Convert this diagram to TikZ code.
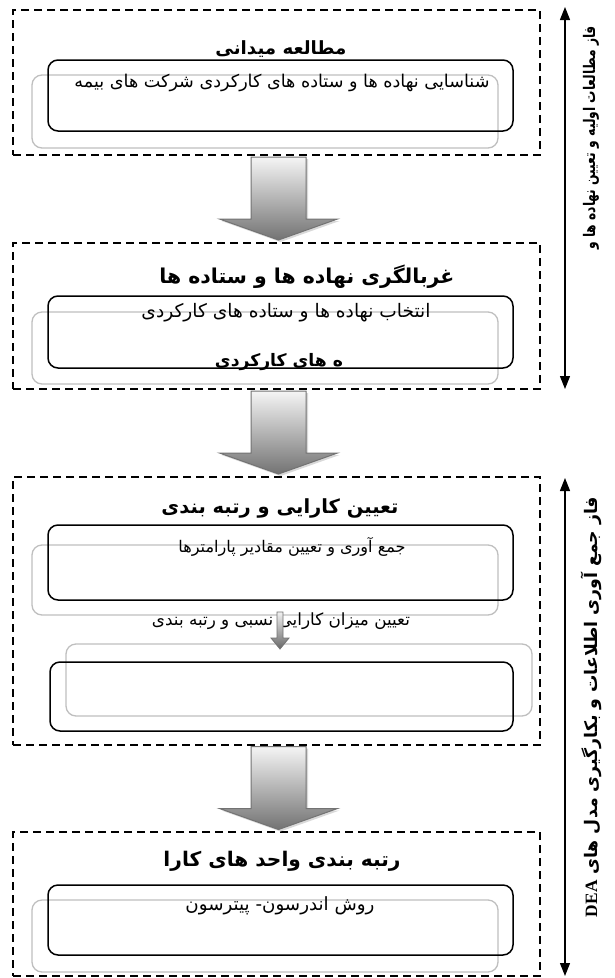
\documentclass[tikz,border=0pt]{standalone}
\usepackage{fontspec}
\usetikzlibrary{arrows.meta,calc}
\TeXXeTstate=1
\newfontfamily\fa[Script=Arabic]{DejaVu Sans}
\newfontfamily\latinserif{Liberation Serif}
\newcommand{\fitto}[2]{\resizebox{#1}{!}{#2}}
\begin{document}
\begin{tikzpicture}[x=1pt,y=-1pt,
  phasebox/.style={draw=black, line width=2pt, dash pattern=on 8pt off 5pt, rectangle, inner sep=0pt},
  blackbox/.style={draw=black, line width=1.5pt, rounded corners=10pt, rectangle, inner sep=0pt},
  graybox/.style={draw=black!25, line width=1.3pt, rounded corners=10pt, rectangle, inner sep=0pt},
  titletext/.style={font=\fa\bfseries\fontsize{15}{18}\selectfont, inner sep=0pt},
  bodytext/.style={font=\fa\fontsize{12}{14}\selectfont, inner sep=0pt},
  sidetext/.style={font=\fa\bfseries\fontsize{16}{18}\selectfont, inner sep=0pt, rotate=90},
  sidearrow/.style={line width=1.2pt, {Triangle[length=13pt,width=10pt]}-{Triangle[length=13pt,width=10pt]}},
  bigarrow/.pic={
    \fill[black!15] (-25.5,-40) -- (29.5,-40) -- (29.5,22) -- (61,22) -- (2,43) -- (-57,22) -- (-25.5,22) -- cycle;
    \draw[draw=black!55, line width=1pt, top color=black!4, bottom color=black!55]
      (-27.5,-42) -- (27.5,-42) -- (27.5,20) -- (59,20) -- (0,41) -- (-59,20) -- (-27.5,20) -- cycle;
  },
  smallarrow/.pic={
    \draw[draw=black!55, line width=0.8pt, top color=black!5, bottom color=black!60]
      (-3,-18) -- (3,-18) -- (3,8) -- (9,8) -- (0,19) -- (-9,8) -- (-3,8) -- cycle;
  }
]
\useasboundingbox (0,0) rectangle (614,978);
\fill[white] (0,0) rectangle (614,978);

% ---------- phase boxes ----------
\node[phasebox, minimum width=527pt, minimum height=145pt] (p1) at (276.5,82.5) {};
\node[phasebox, minimum width=527pt, minimum height=146pt] (p2) at (276.5,316) {};
\node[phasebox, minimum width=527pt, minimum height=268pt] (p3) at (276.5,611) {};
\node[phasebox, minimum width=527pt, minimum height=144pt] (p4) at (276.5,904) {};

% ---------- box 1 ----------
\node[graybox, minimum width=466pt, minimum height=73pt] (g1) at (265,111.5) {};
\node[blackbox, minimum width=465pt, minimum height=71pt] (k1) at (280.5,95.5) {};
\node[titletext] (t1) at (281,49) {\fitto{131pt}{\beginR مطالعه میدانی\endR}};
\node[bodytext] (b1) at (282,83) {\fitto{415pt}{\beginR شناسایی نهاده ها و ستاده های کارکردی شرکت های بیمه\endR}};

% ---------- box 2 ----------
\node[graybox, minimum width=466pt, minimum height=72pt] (g2) at (265,348) {};
\node[blackbox, minimum width=465pt, minimum height=72pt] (k2) at (280.5,332) {};
\node[titletext] (t2) at (307,277) {\fitto{295pt}{\beginR غربالگری نهاده ها و ستاده ها\endR}};
\node[bodytext] (b2) at (286,313) {\fitto{289pt}{\beginR انتخاب نهاده ها و ستاده های کارکردی\endR}};
\node[titletext] (b2b) at (279,362) {\fitto{128pt}{\beginR ه های کارکردی\endR}};

% ---------- box 3 ----------
\node[graybox, minimum width=466pt, minimum height=70pt] (g3) at (265,580) {};
\node[blackbox, minimum width=465pt, minimum height=75pt] (k3) at (280.5,562.5) {};
\node[titletext] (t3) at (280,508) {\fitto{237pt}{\beginR تعیین کارایی و رتبه بندی\endR}};
\node[bodytext] (b3) at (292,547) {\fitto{227pt}{\beginR جمع آوری و تعیین مقادیر پارامترها\endR}};
\node[bodytext] (b3b) at (281,621) {\fitto{258pt}{\beginR تعیین میزان کارایی نسبی و رتبه بندی\endR}};
\node[graybox, minimum width=466pt, minimum height=72pt] (g3b) at (299,680) {};
\node[blackbox, minimum width=463pt, minimum height=69pt] (k3b) at (281.5,696.5) {};
\pic at (280,630) {smallarrow};

% ---------- box 4 ----------
\node[graybox, minimum width=466pt, minimum height=72pt] (g4) at (265,936) {};
\node[blackbox, minimum width=465pt, minimum height=70pt] (k4) at (280.5,920) {};
\node[titletext] (t4) at (282,861) {\fitto{237pt}{\beginR رتبه بندی واحد های کارا\endR}};
\node[bodytext] (b4) at (280,906) {\fitto{189pt}{\beginR روش اندرسون- پیترسون\endR}};

% ---------- block arrows between phases ----------
\pic at ($(p1.south)!0.5!(p2.north)+(2,0)$) {bigarrow};
\pic at ($(p2.south)!0.5!(p3.north)+(2,0)$) {bigarrow};
\pic at ($(p3.south)!0.5!(p4.north)+(2,0)$) {bigarrow};

% ---------- side arrows and labels ----------
\coordinate (s1top) at (565,7);
\coordinate (s1bot) at (565,389);
\coordinate (s2top) at (565,478);
\coordinate (s2bot) at (565,976);
\draw[sidearrow] (s1top) -- (s1bot);
\draw[sidearrow] (s2top) -- (s2bot);
\node[sidetext] (l1) at (591,138) {\scalebox{0.77}[1]{\beginR فاز مطالعات اولیه و تعیین نهاده ها و\endR}};
\node[sidetext] (l2) at (591,707) {\fitto{420pt}{\beginR فاز جمع آوری اطلاعات و بکارگیری مدل های \beginL{\latinserif\bfseries DEA}\endL\endR}};
\end{tikzpicture}
\end{document}
